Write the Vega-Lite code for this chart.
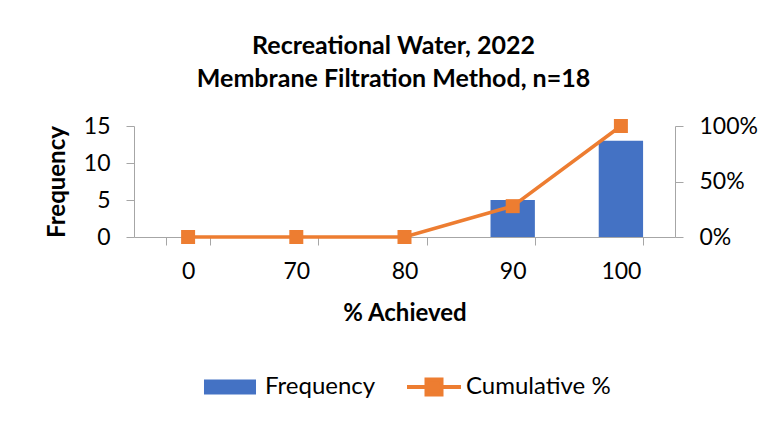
{
  "$schema": "https://vega.github.io/schema/vega-lite/v6.json",
  "width": 541,
  "height": 111,
  "autosize": {"type": "none"},
  "padding": {"left": 134, "top": 126, "right": 89, "bottom": 185},
  "background": "white",
  "config": {
    "view": {"stroke": null},
    "font": "Lato",
    "axis": {"grid": false, "domainColor": "#A6A6A6", "tickColor": "#A6A6A6", "tickSize": 8, "labelFont": "Lato", "labelFontSize": 23, "labelColor": "#000000", "titleFont": "Lato", "titleFontSize": 24, "titleFontWeight": "bold", "titleColor": "#000000"},
    "legend": {"layout": {"bottom": {"anchor": "middle", "direction": "horizontal", "margin": 26}}}
  },
  "title": {
    "text": ["Recreational Water, 2022", "Membrane Filtration Method, n=18"],
    "font": "Lato",
    "fontSize": 25,
    "fontWeight": "bold",
    "color": "#000000",
    "lineHeight": 33,
    "anchor": "middle",
    "offset": 23,
    "dx": -11
  },
  "data": {
    "values": [
      {"pct": "0", "freq": 0, "cum": 0},
      {"pct": "70", "freq": 0, "cum": 0},
      {"pct": "80", "freq": 0, "cum": 0},
      {"pct": "90", "freq": 5, "cum": 0.2778},
      {"pct": "100", "freq": 13, "cum": 1.0}
    ]
  },
  "encoding": {
    "x": {
      "field": "pct", "type": "ordinal", "sort": null,
      "scale": {"paddingInner": 0.59, "paddingOuter": 0.295},
      "axis": {"title": "% Achieved", "labelAngle": 0, "tickBand": "extent", "labelPadding": 15, "titlePadding": 18}
    }
  },
  "layer": [
    {
      "mark": {"type": "bar"},
      "encoding": {
        "y": {"field": "freq", "type": "quantitative", "scale": {"domain": [0, 15]},
              "axis": {"title": "Frequency", "values": [0, 5, 10, 15], "labelPadding": 16, "titlePadding": 14}},
        "fill": {"datum": "Frequency", "scale": {"range": ["#4472C4"]},
                 "legend": {"orient": "bottom", "direction": "horizontal", "title": null, "offset": 30, "padding": 0,
                            "symbolType": "M-0.867,-0.25H0.867V0.25H-0.867Z", "symbolSize": 3600, "symbolStrokeWidth": 4,
                            "labelFont": "Lato", "labelFontSize": 24, "labelColor": "#000000", "labelOffset": 3,
                            "encode": {"symbols": {"update": {"fill": {"value": "#4472C4"}, "stroke": {"value": "transparent"}}}}}}
      }
    },
    {
      "encoding": {
        "y": {"field": "cum", "type": "quantitative", "scale": {"domain": [0, 1]},
              "axis": {"orient": "right", "title": null, "format": ".0%", "values": [0, 0.5, 1], "labelPadding": 16}}
      },
      "layer": [
        {
          "mark": {"type": "line", "strokeWidth": 3.5},
          "encoding": {
            "stroke": {"datum": "Cumulative %", "scale": {"range": ["#ED7D31"]},
                       "legend": {"orient": "bottom", "direction": "horizontal", "title": null, "offset": 30, "padding": 0,
                                  "symbolType": "M-0.9,0H0.9M-0.25,-0.25H0.25V0.25H-0.25Z", "symbolSize": 3600, "symbolStrokeWidth": 4,
                                  "labelFont": "Lato", "labelFontSize": 24, "labelColor": "#000000", "labelOffset": 0,
                                  "encode": {"symbols": {"update": {"fill": {"value": "#ED7D31"}, "stroke": {"value": "#ED7D31"}}}}}}
          }
        },
        {
          "mark": {"type": "point", "shape": "square", "size": 196, "filled": true, "color": "#ED7D31", "opacity": 1}
        }
      ]
    }
  ],
  "resolve": {"scale": {"y": "independent"}}
}
